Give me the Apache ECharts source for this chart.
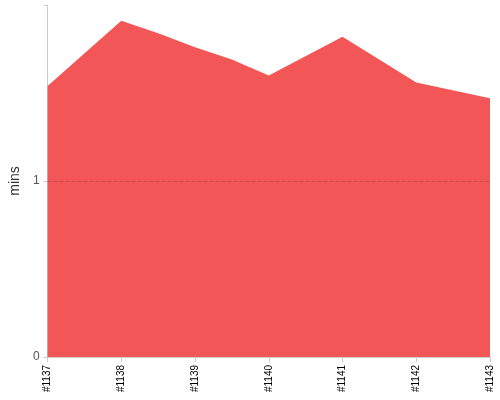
<!DOCTYPE html>
<html><head><meta charset="utf-8">
<script src="https://cdn.jsdelivr.net/npm/echarts@6/dist/echarts.min.js"></script>
<style>html,body{margin:0;padding:0;background:#fff}#c{width:500px;height:400px}</style>
</head><body><div id="c"></div>
<script>
// x positions (build index offsets) and durations in minutes
const buildPos = [0, 1, 1.5, 2, 2.5, 3, 4, 5, 6]
const minsVals = [1.54, 1.91, 1.84, 1.76, 1.69, 1.60, 1.82, 1.56, 1.47]
const firstBuild = 1137

const chart = echarts.init(document.getElementById('c'))
chart.setOption({
  animation: false,
  grid: { left: 42, right: 10, top: 5, bottom: 43 },
  xAxis: {
    type: 'value', min: 0, max: 6, interval: 1,
    axisLine: { show: true, lineStyle: { color: '#ccc' }, onZero: false },
    axisTick: { show: true, length: 5, lineStyle: { color: '#ccc' } },
    splitLine: { show: false },
    axisLabel: { rotate: 90, fontSize: 10, color: '#000', fontFamily: 'Liberation Sans', formatter: v => '#' + (firstBuild + v) }
  },
  yAxis: {
    type: 'value', min: 0, max: 2, interval: 1,
    name: 'mins', nameLocation: 'middle', nameGap: 24,
    nameTextStyle: { fontSize: 14, color: '#333', fontFamily: 'Liberation Sans' },
    axisLine: { show: true, lineStyle: { color: '#ccc' } },
    axisTick: { show: true, length: 4, lineStyle: { color: '#ccc' } },
    splitLine: { show: false },
    axisLabel: { fontSize: 12, color: '#555', fontFamily: 'Liberation Sans', formatter: v => v === 2 ? '' : v }
  },
  series: [{
    type: 'line',
    data: buildPos.map((x, i) => [x, minsVals[i]]),
    showSymbol: false,
    lineStyle: { width: 0 },
    areaStyle: { color: '#f25656', opacity: 1 },
    markLine: {
      silent: true, symbol: 'none', label: { show: false },
      lineStyle: { color: '#b94040', type: 'dashed', width: 1, opacity: 0.6 },
      data: [{ yAxis: 1 }]
    }
  }]
})
</script></body></html>
